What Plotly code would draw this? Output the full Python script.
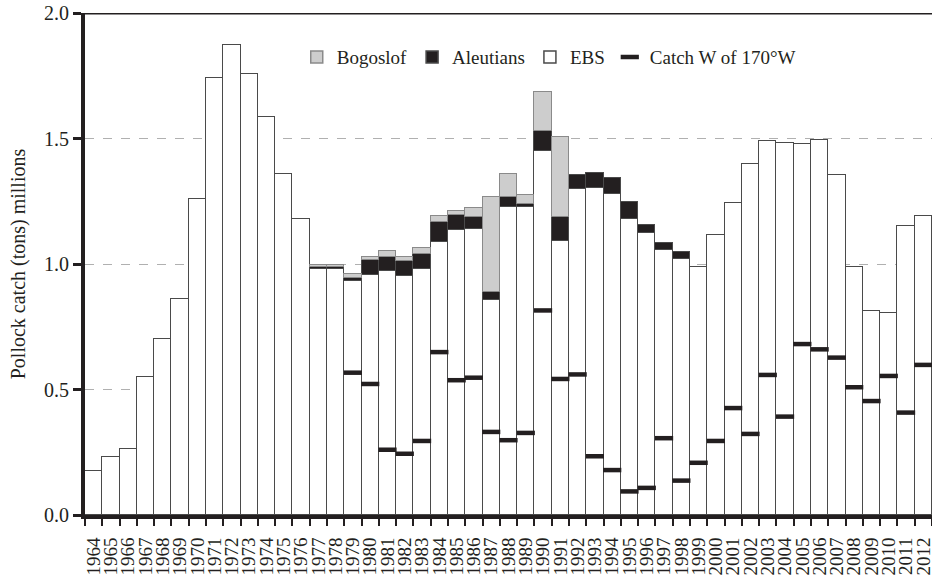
import plotly.graph_objects as go

years = [str(y) for y in range(1964, 2013)]

ebs = [0.176, 0.231, 0.262, 0.549, 0.701, 0.862, 1.257, 1.742, 1.874, 1.757,
       1.587, 1.357, 1.178, 0.979, 0.979, 0.932, 0.955, 0.971, 0.952, 0.979,
       1.088, 1.135, 1.138, 0.857, 1.226, 1.227, 1.451, 1.090, 1.299, 1.303,
       1.280, 1.179, 1.124, 1.056, 1.019, 0.987, 1.117, 1.244, 1.400, 1.491,
       1.481, 1.478, 1.495, 1.353, 0.989, 0.811, 0.805, 1.150, 1.192]

aleutians = [None] * 13 + [0.008, 0.008, 0.012, 0.060, 0.057, 0.061, 0.061,
             0.081, 0.062, 0.048, 0.030, 0.042, 0.011, 0.080, 0.098, 0.056,
             0.058, 0.061, 0.067, 0.030, 0.028, 0.028] + [None] * 14

bogoslof = [None] * 13 + [0.009, 0.009, 0.016, 0.014, 0.022, 0.014, 0.022,
            0.022, 0.013, 0.037, 0.379, 0.089, 0.037, 0.153, 0.319] + [None] * 21

catch_w170 = [None] * 15 + [0.567, 0.522, 0.260, 0.244, 0.295, 0.649, 0.537,
              0.547, 0.331, 0.298, 0.327, 0.815, 0.542, 0.560, 0.234, 0.179,
              0.094, 0.108, 0.306, 0.137, 0.208, 0.295, 0.426, 0.323, 0.558,
              0.392, 0.681, 0.660, 0.627, 0.509, 0.454, 0.554, 0.408, 0.598]

y_ticks = [0.0, 0.5, 1.0, 1.5, 2.0]
y_tick_text = ["0.0", "0.5", "1.0", "1.5", "2.0"]

INK = "#231f20"
OUTLINE = "#4a4a4a"
FONT = "Liberation Serif"

fig = go.Figure()
fig.add_trace(go.Bar(x=years, y=ebs, name="EBS", legendrank=3,
                     marker=dict(color="white", line=dict(color=OUTLINE, width=1.5))))
fig.add_trace(go.Bar(x=years, y=aleutians, name="Aleutians", legendrank=2,
                     marker=dict(color=INK, line=dict(color=OUTLINE, width=1.5))))
fig.add_trace(go.Bar(x=years, y=bogoslof, name="Bogoslof", legendrank=1,
                     marker=dict(color="#cdcdcd", line=dict(color="#8a8a8a", width=1.5))))
fig.add_trace(go.Scatter(x=years, y=catch_w170, name="Catch W of 170°W", legendrank=4,
                         mode="markers",
                         marker=dict(symbol="line-ew", size=13,
                                     line=dict(color=INK, width=4.5))))

fig.update_layout(
    width=932, height=577,
    margin=dict(l=85, r=0, t=13, b=62),
    barmode="stack", bargap=0,
    plot_bgcolor="white", paper_bgcolor="white",
    font=dict(family=FONT, color=INK, size=18),
    legend=dict(orientation="h", x=0.250, y=0.912, yanchor="middle", xanchor="left",
                font=dict(size=19, family=FONT, color=INK),
                bgcolor="rgba(0,0,0,0)", traceorder="normal"),
    showlegend=True,
)

fig.update_xaxes(
    type="category", range=[-0.5, len(years) - 0.5], automargin=False,
    tickmode="array", tickvals=years, ticktext=years,
    tickson="boundaries", ticks="outside", ticklen=7, tickwidth=2,
    tickcolor=INK, tickangle=-90, tickfont=dict(size=19, family=FONT, color=INK),
    ticklabelstandoff=11,
    showline=True, linewidth=4, linecolor=INK, showgrid=False,
)

fig.update_yaxes(
    range=[0, 2.0], tickvals=y_ticks, ticktext=y_tick_text, automargin=False,
    ticks="outside", ticklen=8, tickwidth=3, tickcolor=INK,
    tickfont=dict(size=20, family=FONT, color=INK),
    showline=True, linewidth=4, linecolor=INK,
    showgrid=True, gridcolor="#b0b0b0", gridwidth=1, griddash="dash",
    zeroline=False,
    title=dict(text="Pollock catch (tons) millions", font=dict(size=20, family=FONT, color=INK),
               standoff=14),
)

fig.add_shape(type="line", xref="paper", yref="y", x0=0, x1=1, y0=2.0, y1=2.0,
              line=dict(color=INK, width=3), layer="above")

fig.write_html("out.html", config={"displayModeBar": False},
               post_script="document.body.style.margin='0';document.body.style.overflow='hidden';")
